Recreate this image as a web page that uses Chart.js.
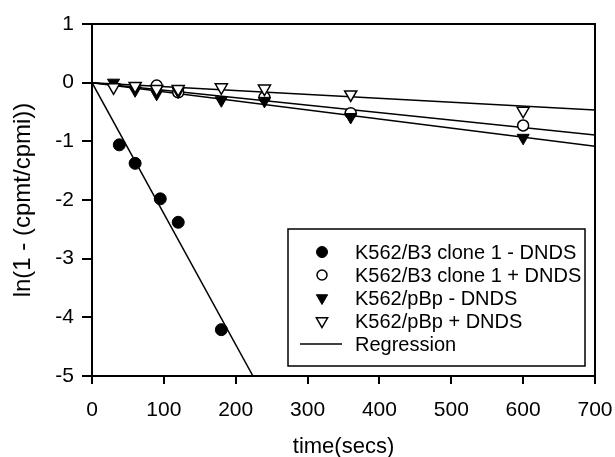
<!DOCTYPE html>
<html><head><meta charset="utf-8">
<script src="https://cdn.jsdelivr.net/npm/chart.js@4/dist/chart.umd.min.js"></script>
<style>html,body{margin:0;padding:0;background:#fff}#wrap{width:615px;height:457px;position:relative}</style>
</head><body><div id="wrap"><canvas id="c"></canvas></div>
<script>
// ---- data ----
const xTickValues = [0, 100, 200, 300, 400, 500, 600, 700];
const yTickValues = [1, 0, -1, -2, -3, -4, -5];

const b3MinusTime = [38, 60, 95, 120, 180];
const b3MinusVal  = [-1.06, -1.375, -1.98, -2.38, -4.21];

const b3PlusTime = [90, 120, 240, 360, 600];
const b3PlusVal  = [-0.05, -0.165, -0.25, -0.52, -0.73];

const pbpMinusTime = [30, 60, 90, 120, 180, 240, 360, 600];
const pbpMinusVal  = [0.0, -0.13, -0.19, -0.15, -0.30, -0.31, -0.585, -0.94];

const pbpPlusTime = [30, 60, 90, 120, 180, 240, 360, 600];
const pbpPlusVal  = [-0.08, -0.055, -0.11, -0.11, -0.08, -0.10, -0.20, -0.48];

// regression lines (start and end points)
const regB3MinusX = [0, 224];   const regB3MinusY = [0, -5];
const regB3PlusX  = [0, 700];   const regB3PlusY  = [0, -0.89];
const regPbpMinusX = [0, 700];  const regPbpMinusY = [0, -1.085];
const regPbpPlusX = [0, 700];   const regPbpPlusY = [0, -0.466];

const seriesLabels = ['K562/B3 clone 1 - DNDS', 'K562/B3 clone 1 + DNDS', 'K562/pBp - DNDS', 'K562/pBp + DNDS', 'Regression'];

const pts = (xs, ys) => xs.map((x, i) => ({x: x, y: ys[i]}));
const FONT = "'Liberation Sans', Arial, Helvetica, sans-serif";

const markerStyles = [
  {pointStyle: 'circle', radius: 6, rotation: 0, fill: '#000', borderWidth: 1},
  {pointStyle: 'circle', radius: 5.5, rotation: 0, fill: '#fff', borderWidth: 1.5},
  {pointStyle: 'triangle', radius: 7, rotation: 180, fill: '#000', borderWidth: 1},
  {pointStyle: 'triangle', radius: 7, rotation: 180, fill: '#fff', borderWidth: 1.5}
];

function markerDataset(label, data, st, order) {
  return {label, data, showLine: false, order,
    pointStyle: st.pointStyle, pointRadius: st.radius, pointHoverRadius: st.radius,
    pointRotation: st.rotation, pointBackgroundColor: st.fill, pointBorderColor: '#000',
    pointBorderWidth: st.borderWidth, backgroundColor: st.fill, borderColor: '#000'};
}
function lineDataset(data) {
  return {label: 'Regression', data, showLine: true, order: 10, borderColor: '#000',
    borderWidth: 1.5, pointRadius: 0, pointHoverRadius: 0, fill: false, tension: 0};
}

const framePlugin = {
  id: 'frame',
  afterDatasetsDraw(chart) {
    const {ctx, chartArea: a} = chart;
    ctx.save();
    ctx.strokeStyle = '#000'; ctx.lineWidth = 2;
    ctx.beginPath();
    ctx.moveTo(a.left, a.top); ctx.lineTo(a.right, a.top); ctx.lineTo(a.right, a.bottom);
    ctx.stroke();
    ctx.restore();
  }
};

const legendPlugin = {
  id: 'boxLegend',
  afterDraw(chart) {
    const {ctx, chartArea: a} = chart;
    const L = a.left + 196, T = a.top + 205, R = a.right - 10, B = a.bottom - 10;
    ctx.save();
    ctx.fillStyle = '#fff';
    ctx.fillRect(L, T, R - L, B - T);
    ctx.strokeStyle = '#000'; ctx.lineWidth = 1.5;
    ctx.strokeRect(L, T, R - L, B - T);
    const mx = L + 34, tx = L + 67;
    const rowY = i => T + 23 + i * 23;
    ctx.font = '20px ' + FONT;
    ctx.textBaseline = 'middle';
    ctx.textAlign = 'left';
    seriesLabels.forEach((lab, i) => {
      const y = rowY(i);
      if (i < 4) {
        const st = markerStyles[i];
        ctx.fillStyle = st.fill; ctx.strokeStyle = '#000'; ctx.lineWidth = st.borderWidth;
        Chart.helpers.drawPoint(ctx, {pointStyle: st.pointStyle, radius: st.radius - 0.5, rotation: st.rotation, borderWidth: st.borderWidth}, mx, y);
      } else {
        ctx.strokeStyle = '#000'; ctx.lineWidth = 1.5;
        ctx.beginPath(); ctx.moveTo(L + 12, y); ctx.lineTo(L + 54, y); ctx.stroke();
      }
      ctx.fillStyle = '#000';
      ctx.fillText(lab, tx, y + 1);
    });
    ctx.restore();
  }
};

new Chart(document.getElementById('c'), {
  type: 'scatter',
  data: {
    datasets: [
      markerDataset(seriesLabels[0], pts(b3MinusTime, b3MinusVal), markerStyles[0], 4),
      markerDataset(seriesLabels[1], pts(b3PlusTime, b3PlusVal), markerStyles[1], 3),
      markerDataset(seriesLabels[2], pts(pbpMinusTime, pbpMinusVal), markerStyles[2], 2),
      markerDataset(seriesLabels[3], pts(pbpPlusTime, pbpPlusVal), markerStyles[3], 1),
      lineDataset(pts(regB3MinusX, regB3MinusY)),
      lineDataset(pts(regB3PlusX, regB3PlusY)),
      lineDataset(pts(regPbpMinusX, regPbpMinusY)),
      lineDataset(pts(regPbpPlusX, regPbpPlusY))
    ]
  },
  options: {
    responsive: true, maintainAspectRatio: false, animation: false,
    layout: {padding: {left: 0, right: 20, top: 24, bottom: 0}},
    plugins: {legend: {display: false}, tooltip: {enabled: false}},
    scales: {
      x: {
        type: 'linear', position: 'bottom', min: 0, max: 700,
        afterFit: s => { s.height = 81; s.paddingLeft = 0; s.paddingRight = 0; },
        afterBuildTicks: s => { s.ticks = xTickValues.map(v => ({value: v})); },
        ticks: {color: '#000', font: {family: FONT, size: 21}, padding: 14, maxRotation: 0, autoSkip: false},
        grid: {drawOnChartArea: false, color: '#000', tickColor: '#000', tickLength: 8, tickWidth: 2, lineWidth: 2},
        border: {display: true, color: '#000', width: 2},
        title: {display: true, text: 'time(secs)', color: '#000', font: {family: FONT, size: 22, lineHeight: 1}, padding: {top: 0, bottom: -1}}
      },
      y: {
        type: 'linear', position: 'left', min: -5, max: 1,
        afterFit: s => { s.width = 92; s.paddingTop = 0; s.paddingBottom = 0; },
        afterBuildTicks: s => { s.ticks = yTickValues.map(v => ({value: v})); },
        ticks: {color: '#000', font: {family: FONT, size: 21}, padding: 8, autoSkip: false},
        grid: {drawOnChartArea: false, color: '#000', tickColor: '#000', tickLength: 10, tickWidth: 2, lineWidth: 2},
        border: {display: true, color: '#000', width: 2},
        title: {display: true, text: 'ln(1 - (cpmt/cpmi))', color: '#000', font: {family: FONT, size: 24, lineHeight: 1}, padding: {top: 11, bottom: 0}}
      }
    }
  },
  plugins: [framePlugin, legendPlugin]
});
</script>
</body></html>
